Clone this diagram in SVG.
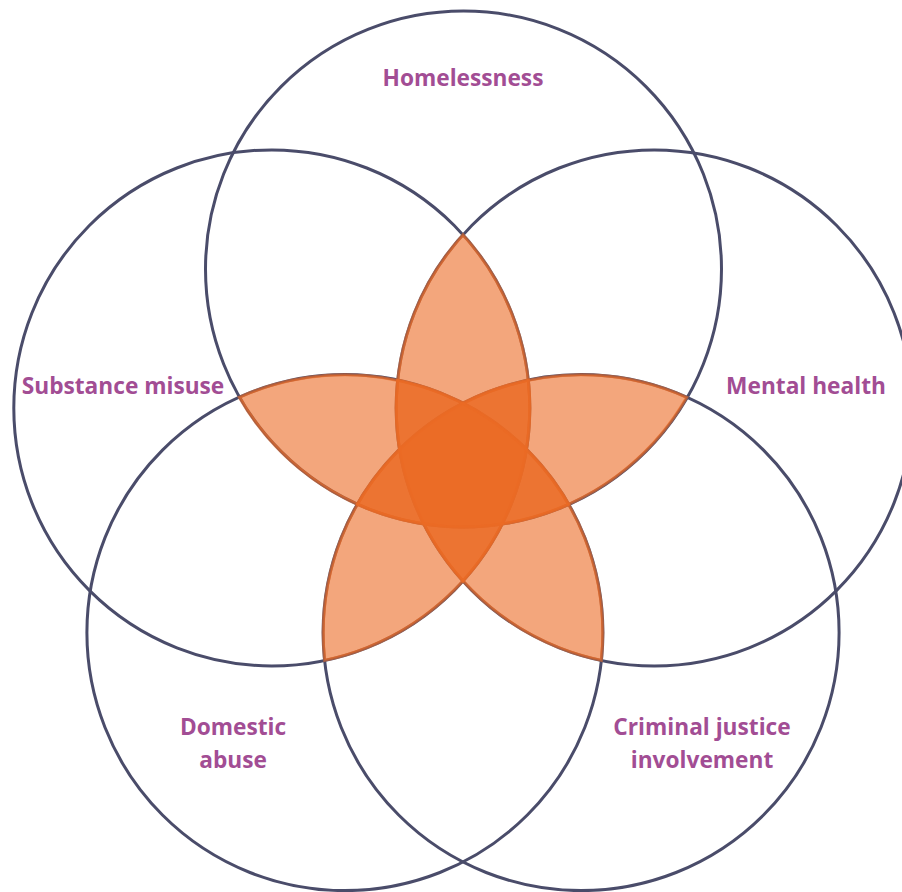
<svg xmlns="http://www.w3.org/2000/svg" width="902" height="892" viewBox="0 0 902 892">
<style>
.c{fill:none;stroke:#4A4C6A;stroke-width:3}
.p{fill:#EB6A24;fill-opacity:0.6;stroke:#EB6A24;stroke-opacity:0.6;stroke-width:3}
.t{font-family:"Open Sans","Liberation Sans",sans-serif;font-weight:700;font-size:22.7px;fill:#A24D94;text-anchor:middle}
</style>
<defs>
<path id="lens" d="M 463 234.7 A 258 258 0 0 1 463 581.1 A 258 258 0 0 1 463 234.7 Z"/>
</defs>
<rect width="902" height="892" fill="#FFFFFF"/>
<g id="circles">
<g id="homelessness-circle"><circle class="c" cx="463.5" cy="269" r="258"/></g>
<g id="mental-health-circle"><circle class="c" cx="654.2" cy="407.9" r="258"/></g>
<g id="criminal-justice-circle"><circle class="c" cx="581.1" cy="632.6" r="258"/></g>
<g id="domestic-abuse-circle"><circle class="c" cx="344.9" cy="632.6" r="258"/></g>
<g id="substance-misuse-circle"><circle class="c" cx="271.8" cy="407.9" r="258"/></g>
</g>
<g id="petals">
<use class="p" href="#lens"/>
<use class="p" href="#lens" transform="rotate(72 463 470)"/>
<use class="p" href="#lens" transform="rotate(144 463 470)"/>
<use class="p" href="#lens" transform="rotate(216 463 470)"/>
<use class="p" href="#lens" transform="rotate(288 463 470)"/>
</g>
<g id="labels">
<g id="homelessness"><text class="t" x="463" y="86">Homelessness</text></g>
<g id="substance-misuse"><text class="t" x="123" y="394">Substance misuse</text></g>
<g id="mental-health"><text class="t" x="806" y="394">Mental health</text></g>
<g id="domestic-abuse"><text class="t" x="233" y="735">Domestic</text><text class="t" x="233" y="768">abuse</text></g>
<g id="criminal-justice"><text class="t" x="702" y="735">Criminal justice</text><text class="t" x="702" y="768">involvement</text></g>
</g>
</svg>
